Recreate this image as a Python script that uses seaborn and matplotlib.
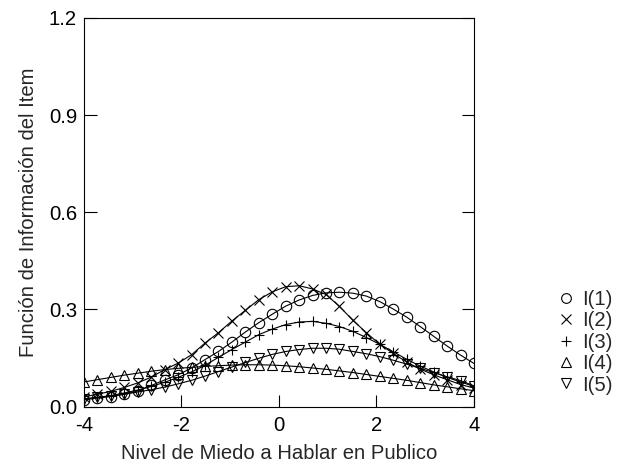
import matplotlib
matplotlib.use("Agg")

import numpy as np
import pandas as pd
import matplotlib.pyplot as plt
from matplotlib.lines import Line2D
import seaborn as sns

# 30 marker positions evenly spread over the theta range
theta = np.linspace(-4, 4, 30)

info_1 = [0.021, 0.026, 0.031, 0.038, 0.048, 0.065, 0.082, 0.098, 0.119, 0.145,
          0.170, 0.199, 0.230, 0.259, 0.285, 0.310, 0.329, 0.343, 0.351, 0.353,
          0.350, 0.341, 0.324, 0.301, 0.276, 0.247, 0.217, 0.187, 0.159, 0.133]
info_2 = [0.030, 0.038, 0.047, 0.059, 0.073, 0.091, 0.114, 0.134, 0.160, 0.196,
          0.228, 0.264, 0.297, 0.330, 0.354, 0.370, 0.373, 0.363, 0.346, 0.309,
          0.266, 0.228, 0.192, 0.164, 0.137, 0.116, 0.098, 0.083, 0.068, 0.057]
info_3 = [0.023, 0.028, 0.034, 0.042, 0.051, 0.062, 0.075, 0.090, 0.107, 0.127,
          0.152, 0.176, 0.199, 0.222, 0.239, 0.253, 0.261, 0.263, 0.257, 0.247,
          0.232, 0.213, 0.192, 0.169, 0.146, 0.125, 0.107, 0.090, 0.076, 0.062]
info_4 = [0.076, 0.083, 0.090, 0.097, 0.103, 0.109, 0.114, 0.118, 0.121, 0.124,
          0.126, 0.128, 0.129, 0.129, 0.128, 0.126, 0.123, 0.119, 0.115, 0.110,
          0.105, 0.099, 0.093, 0.087, 0.081, 0.074, 0.067, 0.061, 0.055, 0.049]
info_5 = [0.024, 0.028, 0.033, 0.038, 0.045, 0.052, 0.060, 0.070, 0.081, 0.094,
          0.108, 0.122, 0.136, 0.149, 0.161, 0.170, 0.176, 0.180, 0.180, 0.177,
          0.170, 0.163, 0.154, 0.143, 0.131, 0.118, 0.105, 0.092, 0.080, 0.064]

labels = ["I(1)", "I(2)", "I(3)", "I(4)", "I(5)"]
markers = ["o", "x", "+", "^", "v"]
x_ticks = [-4, -2, 0, 2, 4]
y_ticks = [0.0, 0.3, 0.6, 0.9, 1.2]

df = pd.DataFrame({"theta": theta, "I(1)": info_1, "I(2)": info_2,
                   "I(3)": info_3, "I(4)": info_4, "I(5)": info_5})

sns.set_style("ticks")
plt.rcParams["font.family"] = ["Liberation Sans", "DejaVu Sans"]

fig = plt.figure(figsize=(6.29, 4.70), dpi=100)
ax = fig.add_axes([0.1335, 0.135, 0.62, 0.827])

for lab, m in zip(labels, markers):
    sns.lineplot(data=df, x="theta", y=lab, ax=ax, color="black", lw=0.8,
                 marker=m, ms=7.5, mfc="none", mec="black", mew=0.8,
                 legend=False)

ax.set_xlim(-4, 4)
ax.set_ylim(0, 1.2)
ax.set_xticks(x_ticks)
ax.set_xticklabels([str(t) for t in x_ticks])
ax.set_yticks(y_ticks)
ax.set_yticklabels([f"{t:.1f}" for t in y_ticks])
ax.tick_params(direction="in", length=9, width=0.8, labelsize=14.6,
               top=False, right=True, colors="black")
ax.tick_params(axis="x", pad=7)
ax.tick_params(axis="y", pad=5)
for sp in ax.spines.values():
    sp.set_linewidth(0.8)
    sp.set_color("black")

ax.set_xlabel("Nivel de Miedo a Hablar en Publico", fontsize=14.6, labelpad=6)
ax.set_ylabel("Función de Información del Item", fontsize=14.6, labelpad=8)

handles = [Line2D([], [], ls="none", marker=m, ms=7, mfc="none",
                  mec="black", mew=0.8) for m in markers]
fig.legend(handles, labels, loc="upper left", bbox_to_anchor=(0.867, 0.405),
           frameon=False, fontsize=14.6, handletextpad=0.3, labelspacing=0.12,
           handlelength=1.0, borderpad=0)

fig.savefig("out.png", dpi=100)
plt.close(fig)
